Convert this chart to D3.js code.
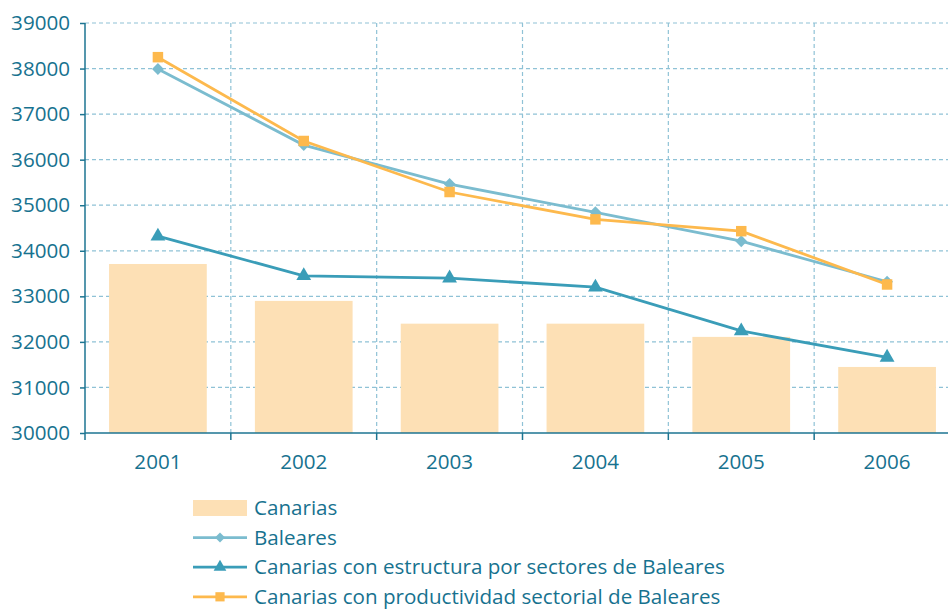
<!DOCTYPE html>
<html><head><meta charset="utf-8">
<script src="https://cdn.jsdelivr.net/npm/d3@7"></script>
<style>
body{margin:0;background:#fff;}
svg{display:block;font-family:"Open Sans","Noto Sans",sans-serif;}
</style></head>
<body><svg id="c" width="948" height="612"></svg>
<script>
const years = ["2001","2002","2003","2004","2005","2006"];
const canarias = [33710, 32900, 32400, 32400, 32110, 31450];
const baleares = [37990, 36320, 35465, 34845, 34210, 33320];
const estructura = [34320, 33450, 33400, 33200, 32240, 31660];
const productividad = [38250, 36410, 35290, 34690, 34430, 33260];
const yTicks = [30000,31000,32000,33000,34000,35000,36000,37000,38000,39000];
const legendLabels = ["Canarias","Baleares","Canarias con estructura por sectores de Baleares","Canarias con productividad sectorial de Baleares"];

const textColor = "#17728f", axisColor = "#1d7592", gridColor = "#8fc2d6";
const barColor = "#fde0b5", balColor = "#7bbccf", estColor = "#3a9db8", proColor = "#fdb94d";
const fs = 20.6;

const svg = d3.select("#c");
const L = 85, R = 960, T = 23, B = 433;
const x = d3.scaleBand().domain(years).range([L, R]).paddingInner(0.33).paddingOuter(0.165);
const xb = d3.scaleBand().domain(years).range([L, R]);
const y = d3.scaleLinear().domain([30000, 39000]).range([B, T]);

// grid
const g = svg.append("g");
g.selectAll("line.h").data(yTicks.slice(1)).join("line")
  .attr("x1", L).attr("x2", 948).attr("y1", d=>y(d)).attr("y2", d=>y(d))
  .attr("stroke", gridColor).attr("stroke-dasharray","4,3").attr("stroke-width",1.2);
g.selectAll("line.v").data(years.slice(1)).join("line")
  .attr("x1", d=>xb(d)).attr("x2", d=>xb(d)).attr("y1", T).attr("y2", B)
  .attr("stroke", gridColor).attr("stroke-dasharray","4,3").attr("stroke-width",1.2);

// bars
svg.append("g").selectAll("rect").data(canarias).join("rect")
  .attr("x", (d,i)=>x(years[i])).attr("width", x.bandwidth())
  .attr("y", d=>y(d)).attr("height", d=>B - y(d)).attr("fill", barColor);

// axes
const yAxis = svg.append("g").attr("transform",`translate(${L},0)`)
  .call(d3.axisLeft(y).tickValues(yTicks).tickSize(5).tickPadding(10).tickFormat(d3.format("d")));
yAxis.attr("font-size", fs).attr("font-family", null);
yAxis.select(".domain").attr("stroke", axisColor).attr("stroke-width",1.5).attr("d",`M0,${T}V${B}`);
yAxis.selectAll(".tick line").attr("stroke", axisColor).attr("stroke-width",1.5);
yAxis.selectAll("text").attr("fill", textColor).attr("font-size", fs);

const xAxis = svg.append("g").attr("transform",`translate(0,${B})`)
  .call(d3.axisBottom(xb).tickSize(0).tickPadding(21));
xAxis.attr("font-size", fs).attr("font-family", null);
xAxis.select(".domain").attr("stroke", axisColor).attr("stroke-width",1.5).attr("d",`M${L},0H948`);
xAxis.selectAll("text").attr("fill", textColor).attr("font-size", fs);
xAxis.selectAll("line.bt").data(years).join("line").attr("class","bt")
  .attr("x1", d=>xb(d)).attr("x2", d=>xb(d)).attr("y1",0).attr("y2",7)
  .attr("stroke", axisColor).attr("stroke-width",1.5);

const cx = i => xb(years[i]) + xb.bandwidth()/2;
const line = d3.line().x((d,i)=>cx(i)).y(d=>y(d));

function series(data, color, sym, size, rot){
  svg.append("path").datum(data).attr("d", line).attr("fill","none")
    .attr("stroke", color).attr("stroke-width", 2.8);
  svg.append("g").selectAll("path").data(data).join("path")
    .attr("transform",(d,i)=>`translate(${cx(i)},${y(d)}) rotate(${rot})`)
    .attr("d", d3.symbol().type(sym).size(size)).attr("fill", color);
}
series(baleares, balColor, d3.symbolSquare, 70, 45);
series(estructura, estColor, d3.symbolTriangle, 95, 0);
series(productividad, proColor, d3.symbolSquare, 110, 0);

// legend
const lg = svg.append("g");
const lx = 193, lw = 54, ly0 = 508, ldy = 29.6;
lg.append("rect").attr("x", lx).attr("y", ly0-8).attr("width", lw).attr("height", 16).attr("fill", barColor);
const ls = [[balColor, d3.symbolSquare, 50, 45],[estColor, d3.symbolTriangle, 70, 0],[proColor, d3.symbolSquare, 85, 0]];
ls.forEach((s,i)=>{
  const yy = ly0 + ldy*(i+1);
  lg.append("line").attr("x1",lx).attr("x2",lx+lw).attr("y1",yy).attr("y2",yy).attr("stroke",s[0]).attr("stroke-width",2.8);
  lg.append("path").attr("transform",`translate(${lx+lw/2},${yy}) rotate(${s[3]})`).attr("d", d3.symbol().type(s[1]).size(s[2])).attr("fill", s[0]);
});
lg.selectAll("text").data(legendLabels).join("text")
  .attr("x", 254).attr("y",(d,i)=>ly0 + ldy*i).attr("dy","0.35em")
  .attr("fill", textColor).attr("font-size", fs).text(d=>d);
</script></body></html>
